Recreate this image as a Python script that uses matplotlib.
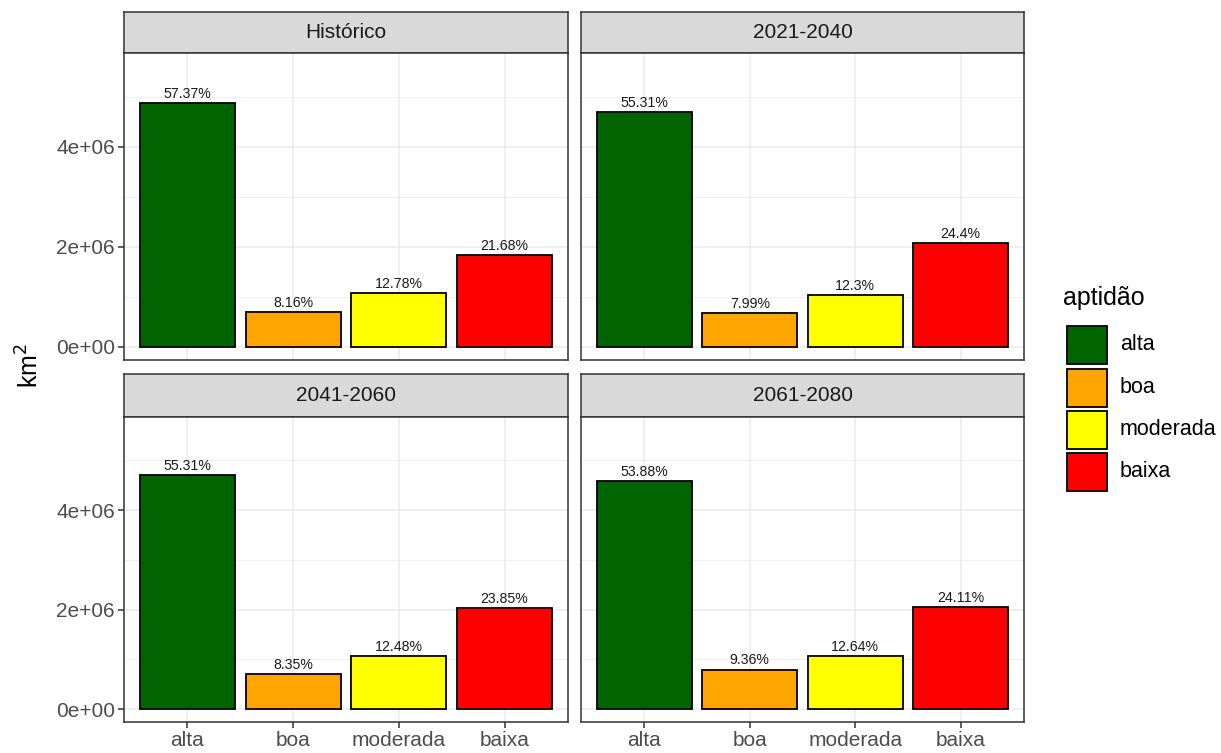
import matplotlib
matplotlib.use("Agg")
import matplotlib.pyplot as plt
from matplotlib.patches import Rectangle
from matplotlib.ticker import FixedLocator, FuncFormatter

plt.rcParams['font.family'] = ['Liberation Sans', 'DejaVu Sans']

# ---- data ----
periods = ["Histórico", "2021-2040", "2041-2060", "2061-2080"]
classes = ["alta", "boa", "moderada", "baixa"]
colors = ["#006400", "#FFA500", "#FFFF00", "#FF0000"]

area_hist = [4.871e6, 0.693e6, 1.085e6, 1.841e6]
area_2021 = [4.696e6, 0.678e6, 1.044e6, 2.072e6]
area_2041 = [4.696e6, 0.709e6, 1.060e6, 2.025e6]
area_2061 = [4.574e6, 0.795e6, 1.073e6, 2.047e6]

pct_hist = ["57.37%", "8.16%", "12.78%", "21.68%"]
pct_2021 = ["55.31%", "7.99%", "12.3%", "24.4%"]
pct_2041 = ["55.31%", "8.35%", "12.48%", "23.85%"]
pct_2061 = ["53.88%", "9.36%", "12.64%", "24.11%"]

areas = [area_hist, area_2021, area_2041, area_2061]
pcts = [pct_hist, pct_2021, pct_2041, pct_2061]

y_ticks = [0, 2e6, 4e6]
y_minor = [1e6, 3e6, 5e6]

# ---- layout (pixels) ----
W, H = 1221, 753
fig = plt.figure(figsize=(W / 100, H / 100), dpi=100)
fig.patch.set_facecolor("white")

def px_axes(x0, y0, x1, y1):
    return fig.add_axes([x0 / W, 1 - y1 / H, (x1 - x0) / W, (y1 - y0) / H])

col_x = [(124, 568), (581, 1024)]
row_y = [(12, 53, 360), (374, 417, 722)]

GRID = "#EBEBEB"
DARK = "#333333"

def fmt_sci(v, pos):
    if v == 0:
        return "0e+00"
    exp = 0
    m = v
    while abs(m) >= 10:
        m /= 10
        exp += 1
    return f"{int(round(m))}e+{exp:02d}"

for i, period in enumerate(periods):
    r, c = divmod(i, 2)
    x0, x1 = col_x[c]
    s0, s1, p1 = row_y[r]
    # strip
    sax = px_axes(x0, s0, x1, s1)
    sax.set_xticks([]); sax.set_yticks([])
    sax.set_facecolor("#D9D9D9")
    for sp in sax.spines.values():
        sp.set_color(DARK); sp.set_linewidth(1.1)
    sax.text(0.5, 0.5, period, ha="center", va="center", fontsize=15,
             color="#1A1A1A", transform=sax.transAxes)
    # panel
    ax = px_axes(x0, s1, x1, p1)
    ax.set_xlim(0.4, 4.6)
    ax.set_ylim(-0.26e6, 5.87e6)
    ax.set_axisbelow(True)
    ax.yaxis.set_major_locator(FixedLocator(y_ticks))
    ax.yaxis.set_minor_locator(FixedLocator(y_minor))
    ax.set_xticks(range(1, 5))
    ax.grid(True, which="major", color=GRID, linewidth=1.1)
    ax.grid(True, which="minor", axis="y", color=GRID, linewidth=0.55)
    for sp in ax.spines.values():
        sp.set_color(DARK); sp.set_linewidth(1.1)
    ax.bar(range(1, 5), areas[i], width=0.9, color=colors,
           edgecolor="black", linewidth=1.3, zorder=2)
    for xi, (v, lab) in enumerate(zip(areas[i], pcts[i]), start=1):
        ax.annotate(lab, (xi, v), xytext=(0, 1.5), textcoords="offset points",
                    ha="center", va="bottom", fontsize=10.2, color="#1A1A1A")
    ax.tick_params(which="minor", length=0)
    ax.tick_params(which="major", length=4, width=1.1, color=DARK,
                   labelsize=15, labelcolor="#4D4D4D", pad=2.5)
    if c == 0:
        ax.yaxis.set_major_formatter(FuncFormatter(fmt_sci))
    else:
        ax.tick_params(axis="y", which="major", length=0, labelleft=False)
    if r == 1:
        ax.set_xticklabels(classes)
    else:
        ax.tick_params(axis="x", which="major", length=0, labelbottom=False)

# y-axis title
fig.text(30 / W, 1 - 366 / H, "km$^2$", rotation=90, ha="center", va="center",
         fontsize=18, color="black")

# legend
lax = px_axes(1050, 270, 1221, 510)
lax.set_xlim(1050, 1221)
lax.set_ylim(510, 270)
lax.axis("off")
lax.text(1063, 298, "aptidão", ha="left", va="center", fontsize=18, color="black")
key_top = [325, 368, 410, 452]
for yt, col, lab in zip(key_top, colors, classes):
    lax.add_patch(Rectangle((1067, yt + 1), 40, 38, facecolor=col,
                            edgecolor="black", linewidth=1.3))
    lax.text(1120, yt + 20, lab, ha="left", va="center", fontsize=15.5, color="black")

fig.savefig("out.png", dpi=100)
